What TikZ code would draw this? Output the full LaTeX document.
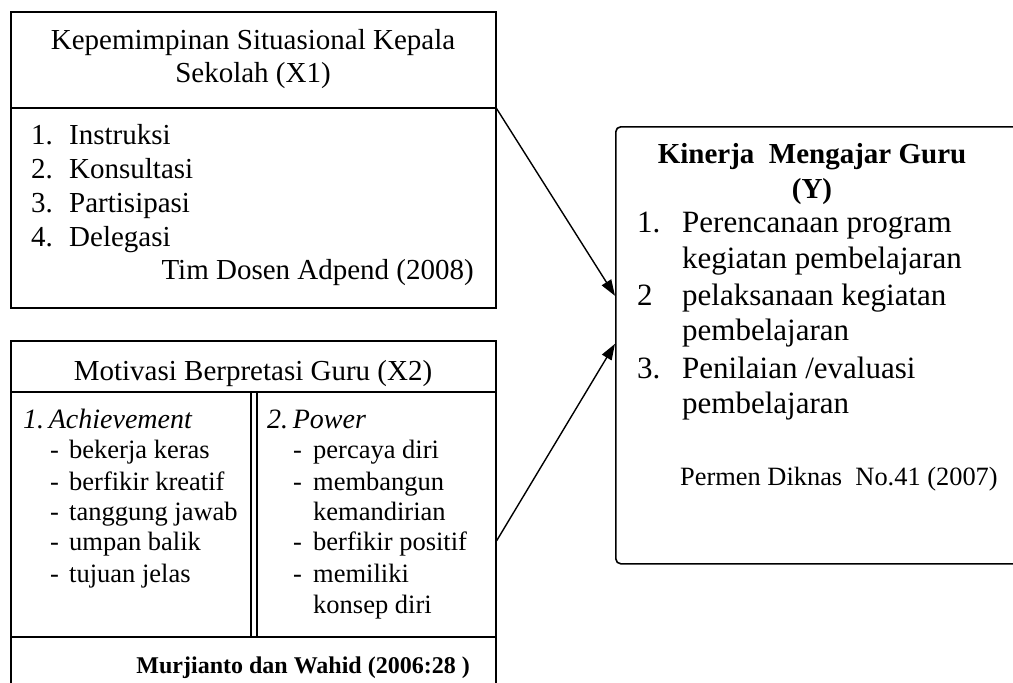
\documentclass[tikz,border=0pt]{standalone}
\usepackage{fontspec}
\setmainfont{Liberation Serif}
\usetikzlibrary{arrows.meta}
\tikzset{
  frame/.style={draw, line width=1.6pt, inner sep=0pt, anchor=north west},
  txt/.style={inner sep=0pt, anchor=base west, font=\fontsize{29}{33}\selectfont},
  txtc/.style={inner sep=0pt, anchor=base, font=\fontsize{29}{33}\selectfont},
  ltxt/.style={inner sep=0pt, anchor=base west, font=\fontsize{26.5}{31}\selectfont},
  ytxt/.style={inner sep=0pt, anchor=base west, font=\fontsize{31}{36}\selectfont},
  link/.style={line width=1.4pt, -{Triangle[length=16pt,width=11pt]}}
}
\begin{document}
\begin{tikzpicture}[x=1pt,y=-1pt]
\clip (0,0) rectangle (1013,683);
\fill[white] (0,0) rectangle (1013,683);
% X1 box
\node[frame, minimum width=485pt, minimum height=96pt] (x1head) at (10,11) {};
\node[frame, minimum width=485pt, minimum height=200pt] (x1body) at (10,107) {};
\node[txtc] (x1t1) at (253,49) {Kepemimpinan Situasional Kepala};
\node[txtc] (x1t2) at (253,82) {Sekolah (X1)};
\node[txt] (x1n1) at (31,144) {1.};
\node[txt] (x1i1) at (69,144) {Instruksi};
\node[txt] (x1n2) at (31,178) {2.};
\node[txt] (x1i2) at (69,178) {Konsultasi};
\node[txt] (x1n3) at (31,212) {3.};
\node[txt] (x1i3) at (69,212) {Partisipasi};
\node[txt] (x1n4) at (31,246) {4.};
\node[txt] (x1i4) at (69,246) {Delegasi};
\node[txt, anchor=base east] (x1src) at (474,279) {Tim Dosen Adpend (2008)};
% X2 box
\node[frame, minimum width=485pt, minimum height=51pt] (x2head) at (10,340) {};
\node[frame, minimum width=240pt, minimum height=245pt] (x2l) at (10,391) {};
\node[frame, minimum width=239pt, minimum height=245pt] (x2r) at (256,391) {};
\node[frame, minimum width=485pt, minimum height=90pt] (x2foot) at (10,636) {};
\node[txtc] (x2t) at (253,380) {Motivasi Berpretasi Guru (X2)};
\node[txt, font=\fontsize{28}{33}\selectfont\itshape] (a0) at (23,428) {1.\,Achievement};
\node[ltxt] (a1d) at (50,458) {-};
\node[ltxt] (a1) at (69,458) {bekerja keras};
\node[ltxt] (a2d) at (50,490) {-};
\node[ltxt] (a2) at (69,490) {berfikir kreatif};
\node[ltxt] (a3d) at (50,520) {-};
\node[ltxt] (a3) at (69,520) {tanggung jawab};
\node[ltxt] (a4d) at (50,550) {-};
\node[ltxt] (a4) at (69,550) {umpan balik};
\node[ltxt] (a5d) at (50,582) {-};
\node[ltxt] (a5) at (69,582) {tujuan jelas};
\node[txt, font=\fontsize{28}{33}\selectfont\itshape] (p0) at (267,428) {2.\,Power};
\node[ltxt] (p1d) at (293,458) {-};
\node[ltxt] (p1) at (313,458) {percaya diri};
\node[ltxt] (p2d) at (293,490) {-};
\node[ltxt] (p2) at (313,490) {membangun};
\node[ltxt] (p2b) at (313,520) {kemandirian};
\node[ltxt] (p3d) at (293,550) {-};
\node[ltxt] (p3) at (313,550) {berfikir positif};
\node[ltxt] (p4d) at (293,582) {-};
\node[ltxt] (p4) at (313,582) {memiliki};
\node[ltxt] (p4b) at (313,613) {konsep diri};
\node[txt, anchor=base east, font=\fontsize{24}{28}\selectfont\bfseries] (x2src) at (470,673) {Murjianto dan Wahid (2006:28 )};
% Y box
\node[frame, rounded corners=5pt, minimum width=440pt, minimum height=437pt] (ybox) at (615,126) {};
\node[txtc, font=\fontsize{29}{33}\selectfont\bfseries] (yt1) at (812,163) {Kinerja\ \ Mengajar Guru};
\node[txtc, font=\fontsize{29}{33}\selectfont\bfseries] (yt2) at (812,198) {(Y)};
\node[ytxt] (yn1) at (637,232) {1.};
\node[ytxt] (yi1) at (682,232) {Perencanaan program};
\node[ytxt] (yi1b) at (682,268) {kegiatan pembelajaran};
\node[ytxt] (yn2) at (637,305) {2};
\node[ytxt] (yi2) at (682,305) {pelaksanaan kegiatan};
\node[ytxt] (yi2b) at (682,340) {pembelajaran};
\node[ytxt] (yn3) at (637,378) {3.};
\node[ytxt] (yi3) at (682,378) {Penilaian /evaluasi};
\node[ytxt] (yi3b) at (682,413) {pembelajaran};
\node[txt, font=\fontsize{26.4}{30}\selectfont] (ysrc) at (680,485) {Permen Diknas\ \ No.41 (2007)};
% connectors
\coordinate (ya) at ([yshift=49.5pt]ybox.west);
\coordinate (yb) at ([yshift=1.5pt]ybox.west);
\coordinate (x2out) at ([yshift=-26.5pt]x2r.east);
\draw[link] (x1head.south east) -- (ya);
\draw[link] (x2out) -- (yb);
\end{tikzpicture}
\end{document}
